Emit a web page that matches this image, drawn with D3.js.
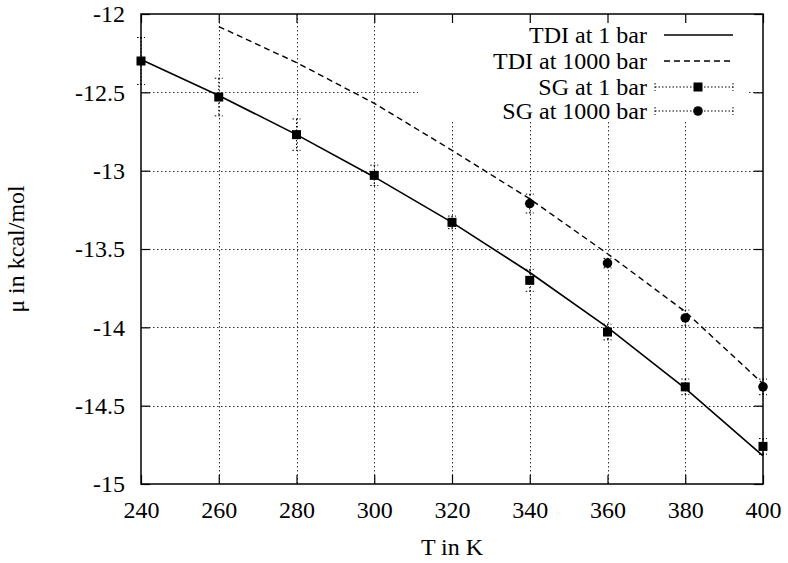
<!DOCTYPE html>
<html>
<head>
<meta charset="utf-8">
<script src="https://cdn.jsdelivr.net/npm/d3@7"></script>
<style>
  html, body { margin: 0; padding: 0; background: #fff; }
</style>
</head>
<body>
<svg id="chart" width="788" height="563"></svg>
<script>
// Temperatures (K) and chemical potentials (kcal/mol)
const tdi1T = [240, 260, 280, 300, 320, 340, 360, 380, 400];
const tdi1 = [-12.29, -12.52, -12.77, -13.04, -13.33, -13.65, -14.00, -14.39, -14.82];

const tdi1000T = [260, 280, 300, 320, 340, 360, 380, 400];
const tdi1000 = [-12.08, -12.31, -12.57, -12.87, -13.18, -13.53, -13.90, -14.36];

const sg1T = [240, 260, 280, 300, 320, 340, 360, 380, 400];
const sg1 = [-12.30, -12.53, -12.77, -13.03, -13.33, -13.70, -14.03, -14.38, -14.76];
const sg1Err = [0.15, 0.12, 0.10, 0.065, 0.04, 0.07, 0.05, 0.05, 0.05];

const sg1000T = [340, 360, 380, 400];
const sg1000 = [-13.21, -13.59, -13.94, -14.38];
const sg1000Err = [0.06, 0.03, 0.05, 0.05];

const xTicks = [240, 260, 280, 300, 320, 340, 360, 380, 400];
const yTicks = [-12, -12.5, -13, -13.5, -14, -14.5, -15];

const legendLabels = ["TDI at 1 bar", "TDI at 1000 bar", "SG at 1 bar", "SG at 1000 bar"];

const FONT = "Liberation Serif";
const svg = d3.select("#chart").attr("font-family", FONT);
const plotLeft = 141, plotRight = 763, plotTop = 14, plotBottom = 484;
const x = d3.scaleLinear().domain([240, 400]).range([plotLeft, plotRight]);
const y = d3.scaleLinear().domain([-15, -12]).range([plotBottom, plotTop]);

const fontSize = 24;
const tickLen = 9;

// grid
const grid = svg.append("g").attr("stroke", "#333").attr("stroke-width", 1).attr("stroke-dasharray", "1.5,2.5");
grid.selectAll("line.gx").data(xTicks.slice(1, -1)).enter().append("line")
  .attr("x1", d => Math.round(x(d)) + 0.5).attr("x2", d => Math.round(x(d)) + 0.5)
  .attr("y1", plotTop).attr("y2", plotBottom);
grid.selectAll("line.gy").data(yTicks.slice(1, -1)).enter().append("line")
  .attr("y1", d => Math.round(y(d)) + 0.5).attr("y2", d => Math.round(y(d)) + 0.5)
  .attr("x1", plotLeft).attr("x2", plotRight);

// key background hides the grid behind it
svg.append("rect").attr("x", 418).attr("y", plotTop + 1).attr("width", 329).attr("height", 106).attr("fill", "#fff");

// axes with inward ticks, mirrored on top and right
function styleAxis(g, hideLabels) {
  g.attr("font-family", FONT).attr("font-size", fontSize);
  g.select(".domain").remove();
  g.selectAll(".tick line").attr("stroke", "#000").attr("stroke-width", 1.2);
  g.selectAll(".tick text").attr("font-family", FONT).attr("font-size", fontSize).attr("fill", "#000");
  if (hideLabels) g.selectAll(".tick text").remove();
}
svg.append("g").attr("transform", `translate(0,${plotBottom})`)
  .call(d3.axisBottom(x).tickValues(xTicks).tickSizeInner(-tickLen).tickSizeOuter(0).tickPadding(17).tickFormat(d3.format("d")))
  .call(g => styleAxis(g, false));
svg.append("g").attr("transform", `translate(0,${plotTop})`)
  .call(d3.axisTop(x).tickValues(xTicks).tickSizeInner(-tickLen).tickSizeOuter(0))
  .call(g => styleAxis(g, true));
svg.append("g").attr("transform", `translate(${plotLeft},0)`)
  .call(d3.axisLeft(y).tickValues(yTicks).tickSizeInner(-tickLen).tickSizeOuter(0).tickPadding(16).tickFormat(d => String(d)))
  .call(g => styleAxis(g, false));
svg.append("g").attr("transform", `translate(${plotRight},0)`)
  .call(d3.axisRight(y).tickValues(yTicks).tickSizeInner(-tickLen).tickSizeOuter(0))
  .call(g => styleAxis(g, true));

// frame
svg.append("rect").attr("x", plotLeft).attr("y", plotTop).attr("width", plotRight - plotLeft).attr("height", plotBottom - plotTop)
  .attr("fill", "none").attr("stroke", "#000").attr("stroke-width", 1.5);

// axis titles
svg.append("text").attr("x", (plotLeft + plotRight) / 2).attr("y", 555).attr("text-anchor", "middle")
  .attr("font-family", FONT).attr("font-size", fontSize).text("T in K");
svg.append("text").attr("transform", `translate(24,${(plotTop + plotBottom) / 2}) rotate(-90)`)
  .attr("text-anchor", "middle").attr("font-family", FONT).attr("font-size", fontSize).text("μ in kcal/mol");

// TDI curves
const line = d3.line().x(d => x(d[0])).y(d => y(d[1]));
svg.append("path").datum(d3.zip(tdi1T, tdi1)).attr("d", line)
  .attr("fill", "none").attr("stroke", "#000").attr("stroke-width", 1.6);
svg.append("path").datum(d3.zip(tdi1000T, tdi1000)).attr("d", line)
  .attr("fill", "none").attr("stroke", "#000").attr("stroke-width", 1.4).attr("stroke-dasharray", "6,4");

// error bars
function errorBars(ts, vs, es) {
  const g = svg.append("g").attr("stroke", "#000").attr("stroke-width", 1).attr("stroke-dasharray", "1.5,2");
  ts.forEach((t, i) => {
    const cx = x(t), y1 = y(vs[i] + es[i]), y2 = y(vs[i] - es[i]);
    g.append("line").attr("x1", cx).attr("x2", cx).attr("y1", y1).attr("y2", y2);
    [y1, y2].forEach(yy => g.append("line").attr("x1", cx - 4).attr("x2", cx + 4).attr("y1", yy).attr("y2", yy));
  });
}
errorBars(sg1T, sg1, sg1Err);
errorBars(sg1000T, sg1000, sg1000Err);

// SG markers
svg.append("g").selectAll("rect").data(d3.zip(sg1T, sg1)).enter().append("rect")
  .attr("x", d => x(d[0]) - 4.5).attr("y", d => y(d[1]) - 4.5).attr("width", 9).attr("height", 9).attr("fill", "#000");
svg.append("g").selectAll("circle").data(d3.zip(sg1000T, sg1000)).enter().append("circle")
  .attr("cx", d => x(d[0])).attr("cy", d => y(d[1])).attr("r", 4.8).attr("fill", "#000");

// key
const key = svg.append("g");
const rowY = [35, 61, 87, 111];
legendLabels.forEach((lab, i) => {
  key.append("text").attr("x", 647).attr("y", rowY[i]).attr("dy", "0.35em").attr("text-anchor", "end")
    .attr("font-family", FONT).attr("font-size", fontSize).text(lab);
});
key.append("line").attr("x1", 664).attr("x2", 733).attr("y1", rowY[0]).attr("y2", rowY[0]).attr("stroke", "#000").attr("stroke-width", 1.6);
key.append("line").attr("x1", 664).attr("x2", 733).attr("y1", rowY[1]).attr("y2", rowY[1]).attr("stroke", "#000").attr("stroke-width", 1.4).attr("stroke-dasharray", "6,4");
[2, 3].forEach(i => {
  const yy = rowY[i];
  const g = key.append("g").attr("stroke", "#000").attr("stroke-width", 1).attr("stroke-dasharray", "1.5,2");
  g.append("line").attr("x1", 655).attr("x2", 733).attr("y1", yy).attr("y2", yy);
  [655, 733].forEach(xx => g.append("line").attr("x1", xx).attr("x2", xx).attr("y1", yy - 4).attr("y2", yy + 4));
});
key.append("rect").attr("x", 698 - 4.5).attr("y", rowY[2] - 4.5).attr("width", 9).attr("height", 9).attr("fill", "#000");
key.append("circle").attr("cx", 698).attr("cy", rowY[3]).attr("r", 4.8).attr("fill", "#000");
</script>
</body>
</html>
